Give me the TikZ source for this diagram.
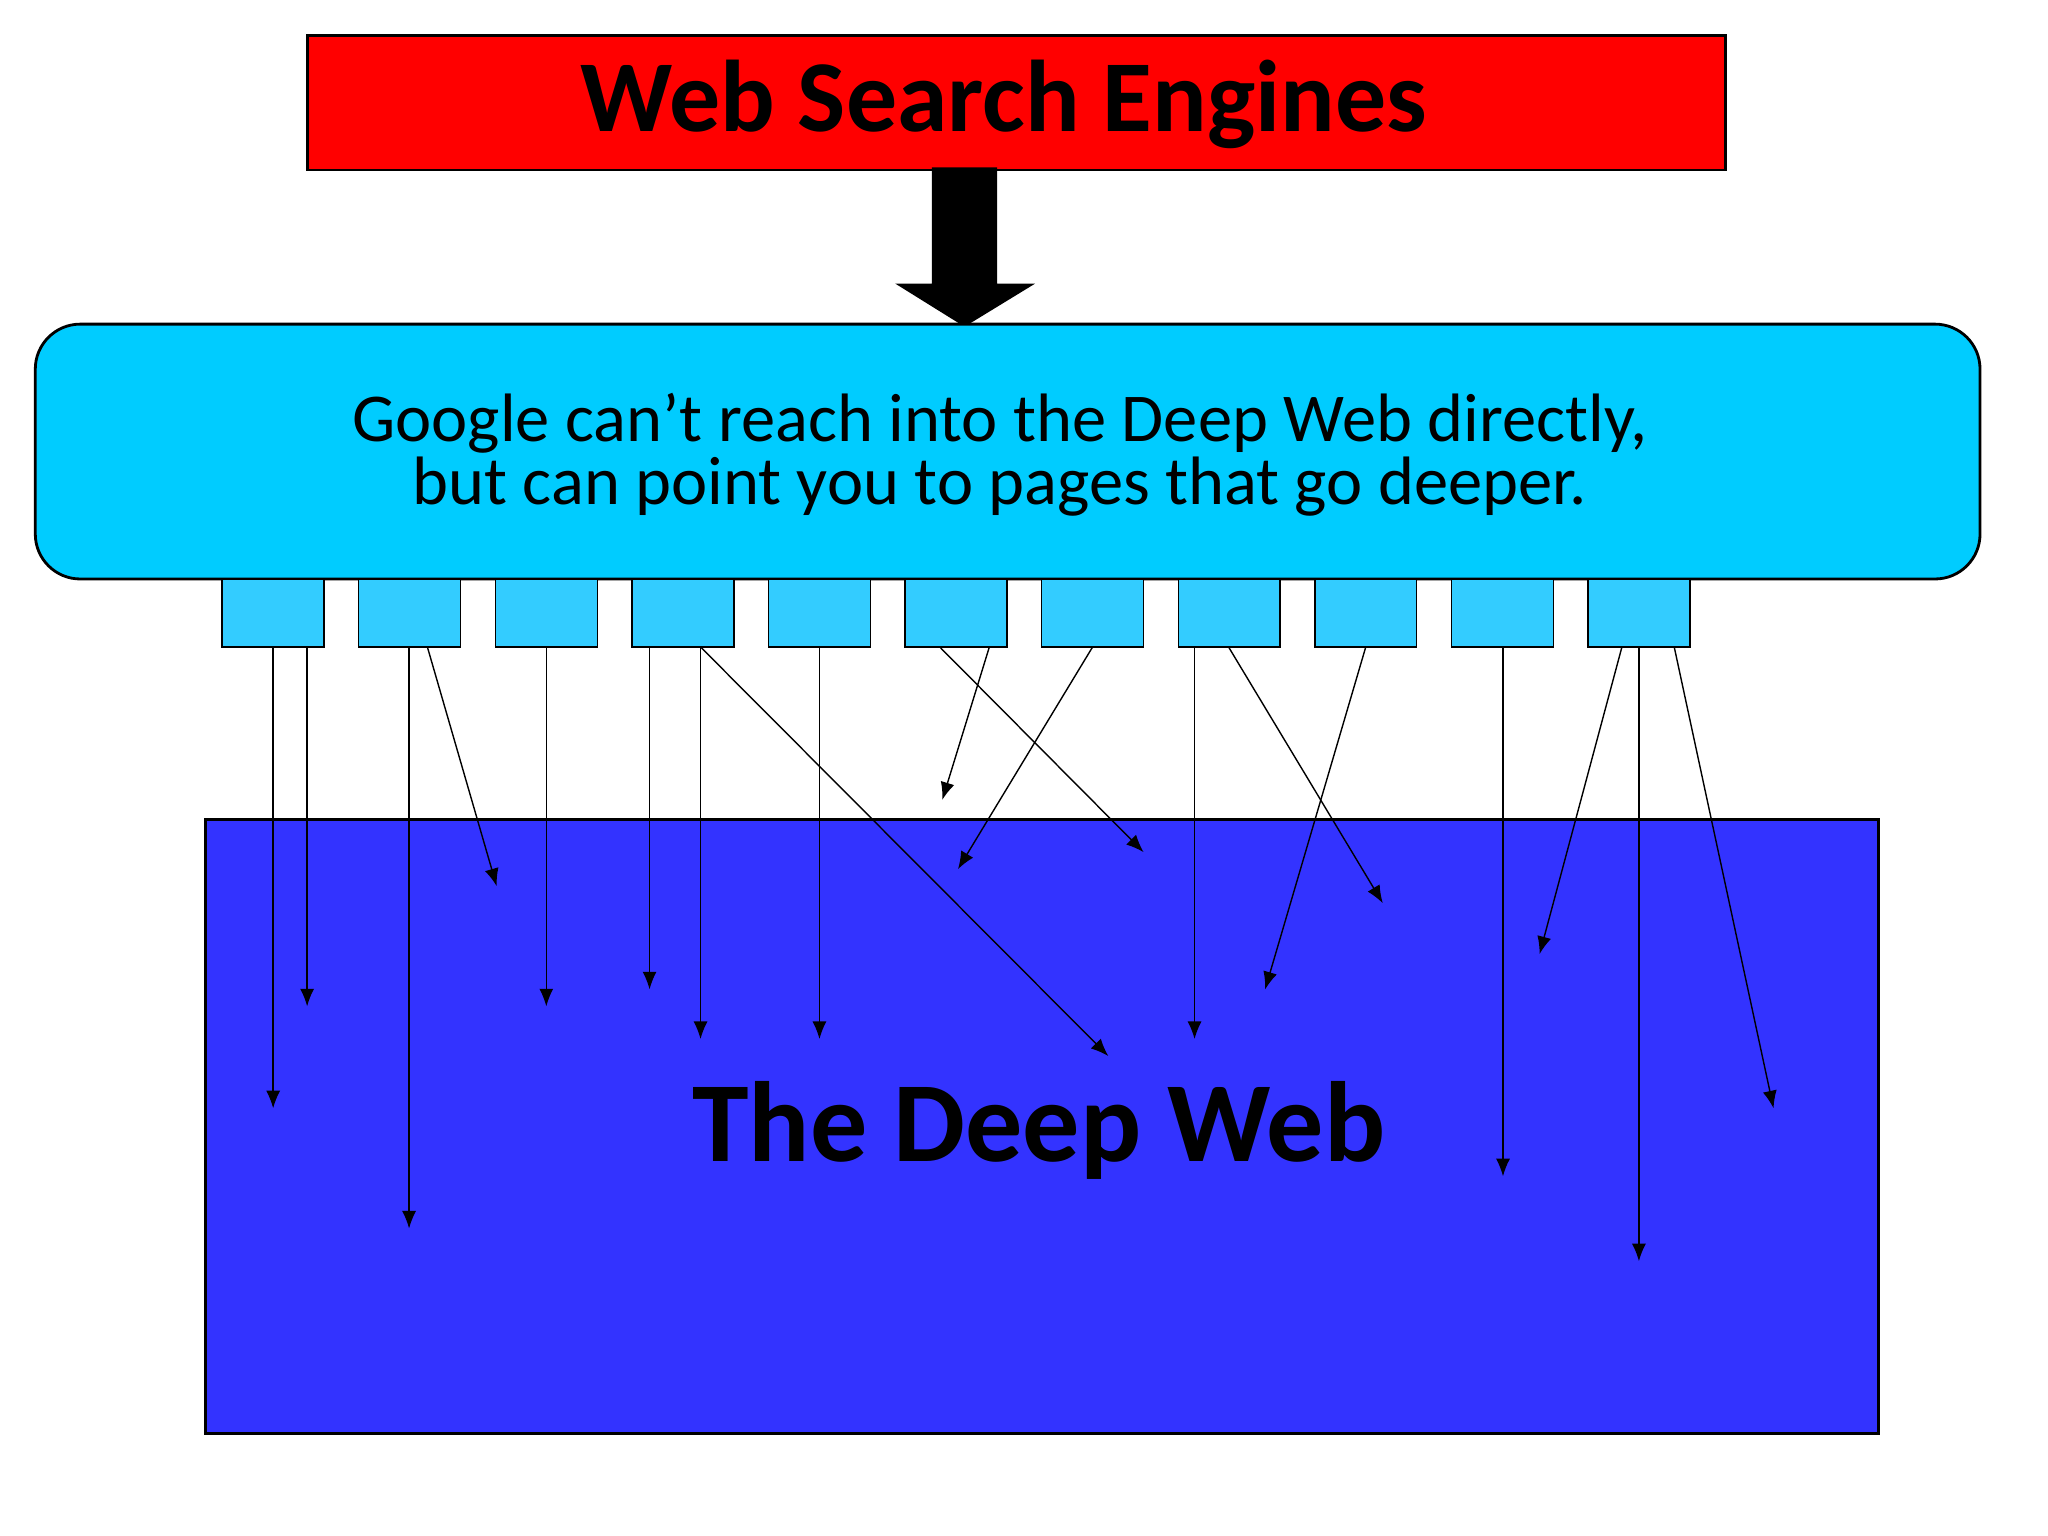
\documentclass[tikz,border=0pt]{standalone}
\usepackage{fontspec}
\setmainfont{Carlito}
\usetikzlibrary{arrows.meta}
\definecolor{engred}{RGB}{255,0,0}
\definecolor{skyblue}{RGB}{0,204,255}
\definecolor{pageblue}{RGB}{51,204,255}
\definecolor{deepblue}{RGB}{51,51,255}
\tikzset{every path/.style={black},
  page/.style={draw,fill=pageblue,minimum width=1.02cm,minimum height=0.68cm,inner sep=0pt},
  link/.style={thin,-{Latex[length=5pt,width=4pt]}}}

\begin{document}
\begin{tikzpicture}[x=0.01307cm,y=-0.01307cm]
   \useasboundingbox (0,0) rectangle (1567,1175);
   % search engines
   \draw[fill=engred,thick] (235,27) rectangle (1320,130);
   \node (engines) at (768,80) {\fontsize{29}{35}\selectfont\bfseries Web Search Engines};
   \fill (713,128) -- (763,128) -- (763,217) -- (792,217) -- (738,250) -- (685,217) -- (713,217) -- cycle;
   % google box
   \draw[fill=skyblue,thick,rounded corners=0.45cm] (27,248) rectangle (1515,443);
   \node[align=center] (google) at (765,348) {\fontsize{19.5}{24}\selectfont Google can’t reach into the Deep Web directly,\\\fontsize{19.5}{24}\selectfont but can point you to pages that go deeper.};
   % deep web
   \draw[fill=deepblue,thick] (157,627) rectangle (1437,1097);
   \node (deep) at (795,865) {\fontsize{32.5}{38}\selectfont\bfseries The Deep Web};
   % pages
   \foreach \i in {0,...,10}
     \node[page] (p\i) at ({209+104.5*\i},469) {};
   % links
   \draw[link] (209,495) -- (209,848);
   \draw[link] (235,495) -- (235,770);
   \draw[link] (313,495) -- (313,940);
   \draw[link] (327,495) -- (380,678);
   \draw[link] (418,495) -- (418,770);
   \draw[link] (497,495) -- (497,757);
   \draw[link] (536,495) -- (536,795);
   \draw[link] (536,495) -- (848,808);
   \draw[link] (627,495) -- (627,795);
   \draw[link] (757,495) -- (721,612);
   \draw[link] (719,495) -- (875,652);
   \draw[link] (836,495) -- (733,665);
   \draw[link] (914,495) -- (914,795);
   \draw[link] (940,495) -- (1058,691);
   \draw[link] (1045,495) -- (968,757);
   \draw[link] (1150,495) -- (1150,900);
   \draw[link] (1241,495) -- (1178,730);
   \draw[link] (1254,495) -- (1254,965);
   \draw[link] (1281,495) -- (1357,848);
\end{tikzpicture}
\end{document}
